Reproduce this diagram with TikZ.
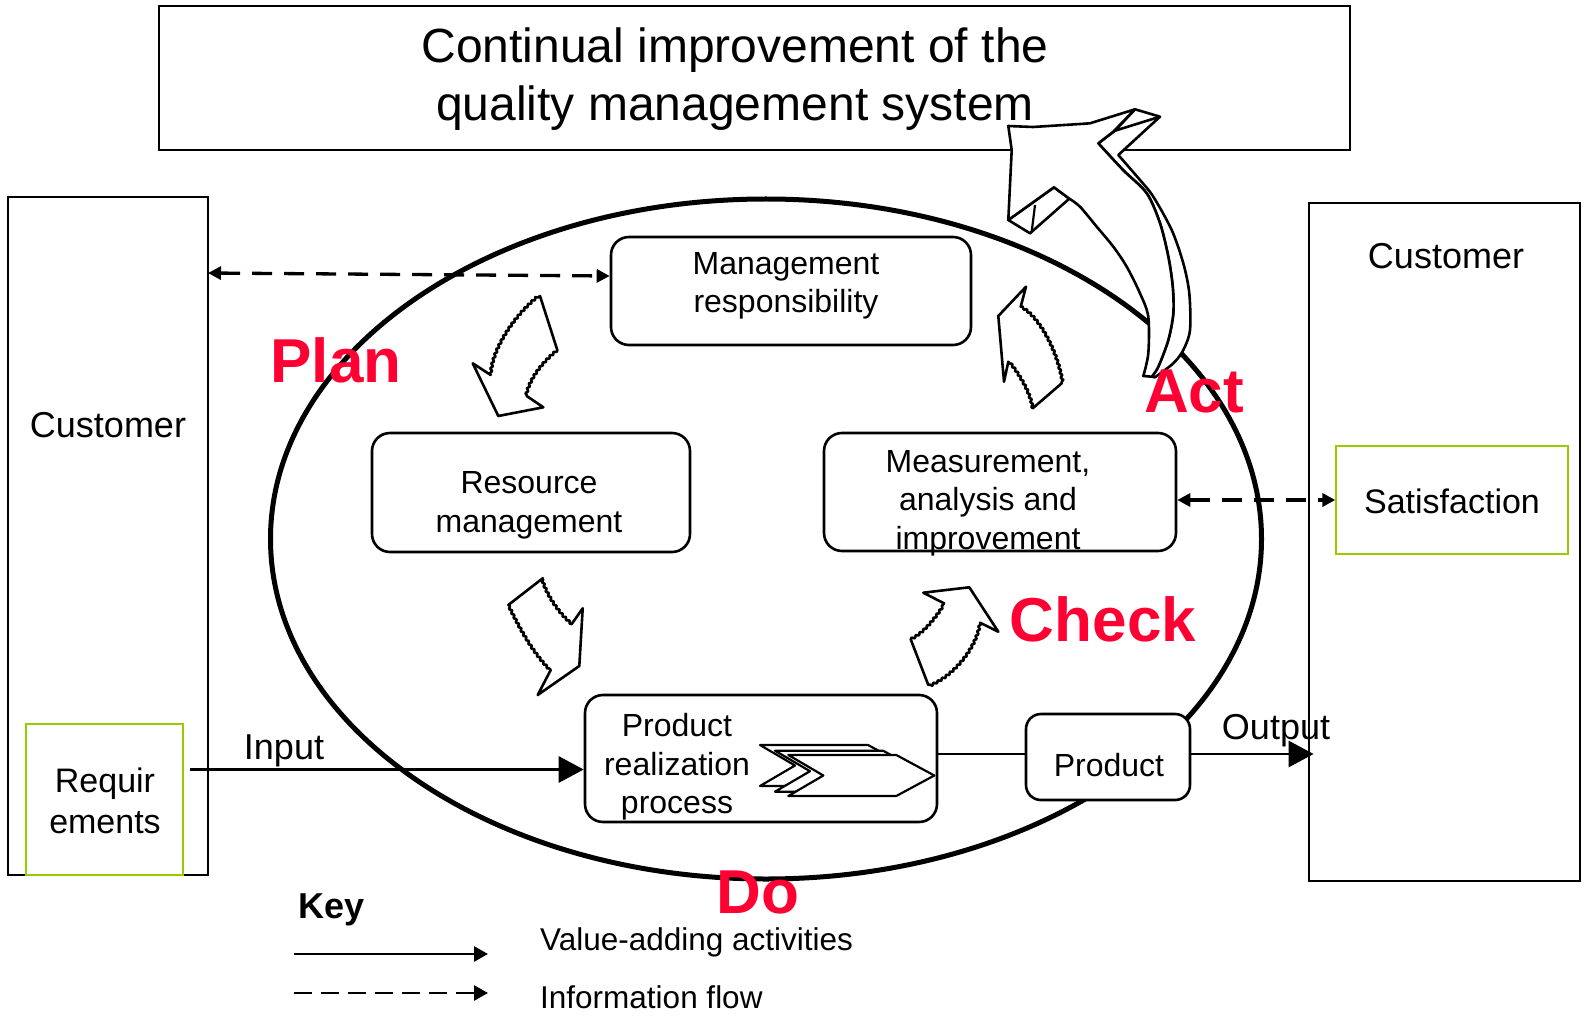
\documentclass[tikz,border=0pt]{standalone}
\usepackage{fontspec}
\setmainfont{Liberation Sans}
\usetikzlibrary{arrows.meta,decorations.pathmorphing,calc}
\definecolor{pdcared}{RGB}{255,0,51}
\definecolor{boxgreen}{RGB}{153,204,0}
\begin{document}
\begin{tikzpicture}[x=1pt,y=-1pt,
  rbox/.style={draw, line width=2.6pt, rounded corners=18pt, fill=white, inner sep=0pt},
  btext/.style={font=\fontsize{32}{38.4}\selectfont, align=center, inner sep=0pt},
  pdca/.style={text=pdcared, font=\fontsize{62}{70}\selectfont\bfseries, inner sep=0pt},
  plainbox/.style={draw, line width=2.8pt, inner sep=0pt},
  greenbox/.style={draw=boxgreen, line width=1.4pt, inner sep=0pt},
  bigtext/.style={font=\fontsize{36}{43}\selectfont, inner sep=0pt},
  midtext/.style={font=\fontsize{34}{41}\selectfont, align=center, inner sep=0pt},
  keytext/.style={font=\fontsize{31.5}{37}\selectfont, inner sep=0pt, anchor=west},
  flowarrow/.style={line width=2.8pt, -{Triangle[length=25pt,width=26pt]}},
  infoarrow/.style={line width=3.3pt, dash pattern=on 20pt off 12pt, {Triangle[length=13pt,width=13pt]}-{Triangle[length=13pt,width=13pt]}},
  keyflow/.style={line width=2.8pt, -{Triangle[length=14pt,width=15pt]}},
  keyinfo/.style={line width=2.8pt, dash pattern=on 18pt off 9pt, -{Triangle[length=14pt,width=15pt]}},
  bent/.style={draw, line width=2.6pt, fill=white, line join=round},
  jag/.style={decoration={snake, amplitude=1.1pt, segment length=5pt}},
]
\useasboundingbox (0,0) rectangle (1585,1016);

% ellipse
\draw[line width=5pt] (766,539) ellipse [x radius=495.5, y radius=340];

% title
\node[draw, line width=2.6pt, minimum width=1191pt, minimum height=144pt, inner sep=0pt] (title) at (754.5,78) {};
\node[font=\fontsize{48}{58.5}\selectfont, align=center, inner sep=0pt] (titleT) at (735,79) {Continual improvement of the\\quality management system};

% customers
\node[plainbox, minimum width=200pt, minimum height=678pt] (custL) at (108,536) {};
\node[bigtext] (custLT) at (108,425) {Customer};
\node[plainbox, minimum width=271pt, minimum height=678pt] (custR) at (1444.5,542) {};
\node[bigtext] (custRT) at (1446,256) {Customer};
\node[greenbox, minimum width=157pt, minimum height=151pt] (req) at (104.5,799.5) {};
\node[midtext] (reqT) at (105,801) {Requir\\ements};
\node[greenbox, minimum width=232pt, minimum height=108pt] (sat) at (1452,500) {};
\node[midtext] (satT) at (1452,501) {Satisfaction};

% process boxes
\node[rbox, minimum width=360pt, minimum height=108pt] (mgmt) at (791,291) {};
\node[btext] (mgmtT) at (786,286) {Management\\responsibility};
\node[rbox, minimum width=318pt, minimum height=119pt] (res) at (531,492.5) {};
\node[btext] (resT) at (529,505.5) {Resource\\management};
\node[rbox, minimum width=352pt, minimum height=118pt] (meas) at (1000,492) {};
\node[btext] (measT) at (988,503) {Measurement,\\analysis and\\improvement};
\node[rbox, minimum width=352pt, minimum height=127pt] (prp) at (761,758.5) {};
\node[btext] (prpT) at (677,767) {Product\\realization\\process};
\node[rbox, rounded corners=15pt, minimum width=164pt, minimum height=86pt] (prod) at (1108,757) {};
\node[btext] (prodT) at (1109,765) {Product};

% chevrons
\foreach \cx/\cy in {760/745, 775/750.7, 788.3/755}
  \draw[bent, line width=2.2pt] (\cx,\cy) -- ++(108,0) -- ++(38,20.5) -- ++(-38,20.5) -- ++(-108,0) -- ++(35,-20.5) -- cycle;

% connectors
\coordinate (dL) at (208,273);
\coordinate (dR) at (611,276);
\draw[infoarrow] (dL) -- (mgmt.west |- dR);
\draw[infoarrow] (meas.east |- sat.west) -- (sat.west);
\coordinate (inS) at (190,769.5);
\draw[flowarrow] (inS) -- (prp.west |- inS);
\node[bigtext] (inT) at (284,751) {Input};
\coordinate (oY) at (0,754);
\draw[line width=2.4pt] (prp.east |- oY) -- (prod.west |- oY);
\draw[flowarrow, shorten >=-6pt] (prod.east |- oY) -- (custR.west |- oY);
\node[bigtext] (outT) at (1276,731) {Output};

% curved block arrows
\path[bent] (540,296) -- (557.3,350) decorate[jag]{.. controls (543,362) and (530,378) .. (526.7,396)} -- (543.3,407.3) -- (498.3,416) -- (472.7,363.3) -- (490.7,375) decorate[jag]{.. controls (492,350) and (515,315) .. (540,296)} -- cycle;
\path[bent] (542.7,578.3) -- (508.3,605) decorate[jag]{.. controls (518,625) and (532,652) .. (550.7,670)} -- (537.7,695) -- (579.3,666) -- (582.7,608.3) -- (571.7,624) decorate[jag]{.. controls (560,614) and (546,594) .. (542.7,578.3)} -- cycle;
\path[bent] (923.3,592.7) -- (969.3,587.3) -- (998.3,631.7) -- (980,622.7) decorate[jag]{.. controls (977,645) and (955,675) .. (928.3,685)} -- (910.7,639.3) decorate[jag]{.. controls (925,632) and (938,613) .. (944,603.3)} -- cycle;
\path[bent] (1026,286.7) -- (1020.7,306.7) decorate[jag]{.. controls (1037,315) and (1057,350) .. (1061.7,383.3)} -- (1032.7,408.3) decorate[jag]{.. controls (1030,392) and (1018,373) .. (1008.3,361.7)} -- (1004,381.7) -- (998.3,316) -- cycle;

% big Act arrow
\path[bent] (1135,109.3) -- (1160,116.7) -- (1118.3,155) -- plot[smooth] coordinates {(1118.3,155) (1140,180) (1153.3,196.7) (1171.7,230) (1183.3,263.3) (1189.3,293.3) (1190,330) (1183.3,350) (1173.3,363.3) (1155,377.3)} -- (1151.7,376.7) -- plot[smooth] coordinates {(1151.7,376.7) (1158.3,366.7) (1168.3,340) (1173.3,313.3) (1172.7,286.7) (1168.3,256.7) (1160,223.3) (1146.7,193.3) (1123,170) (1098.3,143.3)} -- (1115,130.7) -- cycle;
\draw[line width=2.6pt] (1160,116.7) -- (1115,130.7);
\path[bent] (1008.3,220) -- (1054,187.3) -- (1069.3,198.7) -- (1030,233.3) -- cycle;
\draw[line width=2.2pt] (1035,205) -- (1031.7,231.7);
\path[bent] (1008.3,126) -- (1033,127) -- (1080,124) -- (1090,123.3) -- (1135,109.3) -- (1113.3,131.7) -- (1098.3,143.3) -- plot[smooth] coordinates {(1098.3,143.3) (1123,170) (1146.7,193.3) (1160,223.3) (1168.3,256.7) (1172.7,286.7) (1173.3,313.3) (1168.3,340) (1158.3,366.7) (1151.7,376.7)} -- (1143.3,376) -- plot[smooth] coordinates {(1143.3,376) (1148.3,353.3) (1148.3,316.7) (1140,293.3) (1126.7,266.7) (1113.3,246.7) (1096.7,226.7) (1080,206.7) (1069.3,198.7)} -- (1054,187.3) -- (1008.3,220) -- (1011.7,150) -- cycle;

% PDCA labels
\node[pdca] (plan) at (336,360) {Plan};
\node[pdca] (act) at (1194,391) {Act};
\node[pdca] (check) at (1103,619) {Check};
\node[pdca] (do) at (758,892) {Do};

% key
\node[font=\fontsize{36}{43}\selectfont\bfseries, inner sep=0pt] (key) at (332,910) {Key};
\coordinate (k1s) at (294,954);
\coordinate (k1e) at (488,954);
\draw[keyflow] (k1s) -- (k1e);
\coordinate (k2s) at (294,993);
\coordinate (k2e) at (488,993);
\draw[keyinfo] (k2s) -- (k2e);
\node[keytext] (k1T) at (540,942) {Value-adding activities};
\node[keytext] (k2T) at (540,997) {Information flow};
\end{tikzpicture}
\end{document}
